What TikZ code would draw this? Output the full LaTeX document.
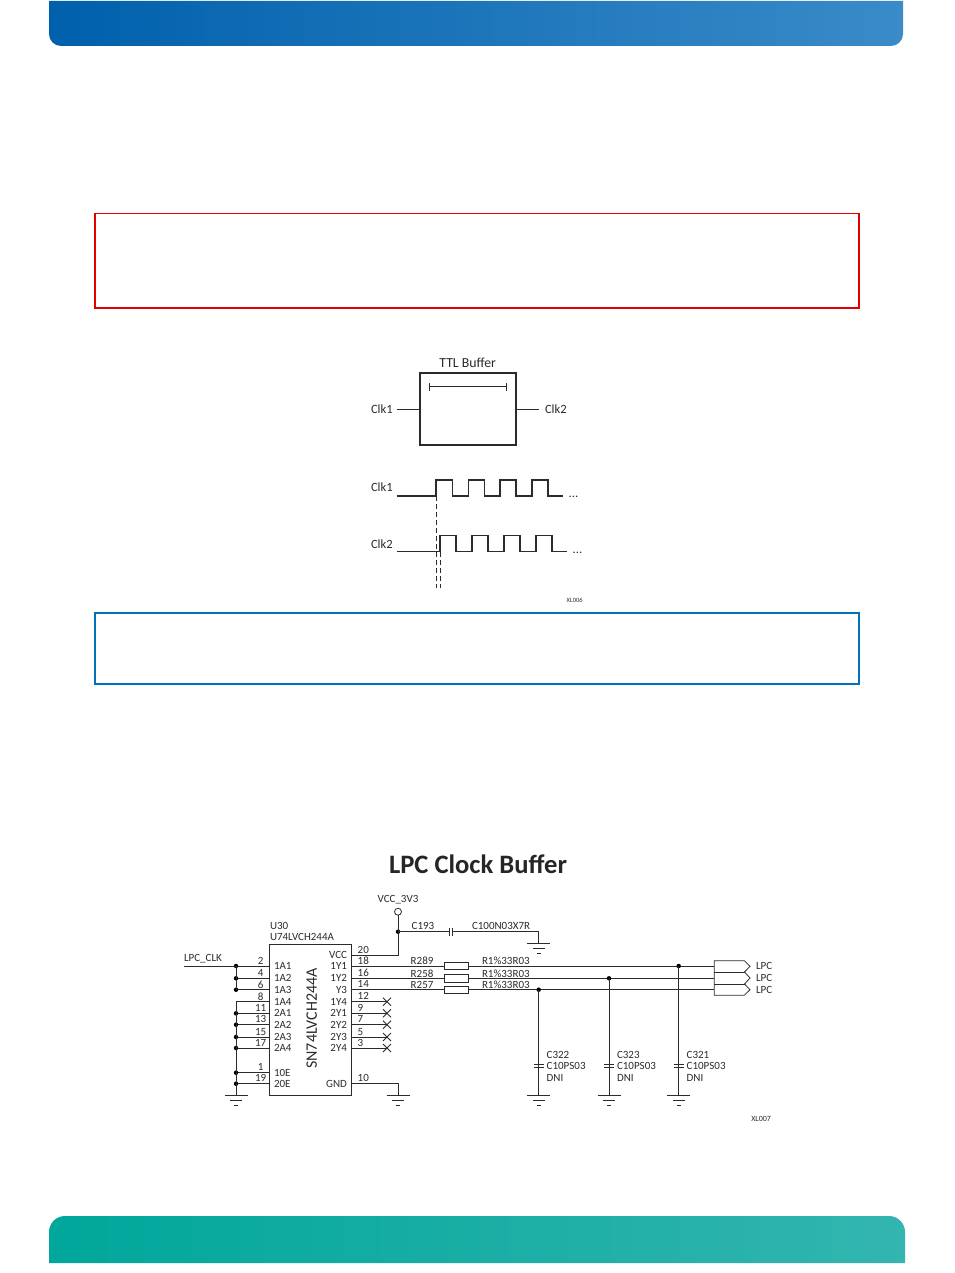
\documentclass[tikz,border=0pt]{standalone}
\usepackage{fontspec}
\setmainfont{Carlito}
\definecolor{bandA}{HTML}{0060AC}
\definecolor{bandB}{HTML}{0072B8}
\definecolor{bandC}{HTML}{3A8BC8}
\definecolor{tealA}{HTML}{00A79A}
\definecolor{tealB}{HTML}{33B5B0}
\definecolor{ink}{HTML}{2B2B2B}
\definecolor{noteblue}{HTML}{0072B8}
\tikzset{
  x=1pt,y=-1pt,
  every node/.style={inner sep=0pt,outer sep=0pt,text=ink},
  wire/.style={draw=ink,line width=0.9pt},
  thick wire/.style={draw=ink,line width=1.6pt},
  sch/.style={font=\fontsize{11}{12}\selectfont},
  fig/.style={font=\fontsize{12.6}{13}\selectfont},
  dotj/.style={fill=black,circle,minimum size=4.5pt},
  gndsym/.pic={
    \draw[wire] (-11.5,0)--(11.5,0);
    \draw[wire] (-6,5)--(6,5);
    \draw[wire] (-2,10)--(2,10);
  },
  capsym/.pic={
    \draw[wire] (-5,-1.8)--(5,-1.8);
    \draw[wire] (-5,1.8)--(5,1.8);
  },
  xmark/.pic={
    \draw[wire] (-4,-4)--(4,4);
    \draw[wire] (-4,4)--(4,-4);
  },
}
\begin{document}
\begin{tikzpicture}
\useasboundingbox (0,0) rectangle (954,1273);
% bands
\shade[left color=bandA,middle color=bandB,right color=bandC]
  (49,1) -- (903,1) -- (903,34) arc[start angle=0,end angle=90,radius=12] -- (61,46) arc[start angle=90,end angle=180,radius=12] -- cycle;
\shade[left color=tealA,right color=tealB]
  (49,1263) -- (905,1263) -- (905,1232) arc[start angle=0,end angle=-90,radius=16] -- (65,1216) arc[start angle=-90,end angle=-180,radius=16] -- cycle;
% note boxes
\node[draw=red!90!black,line width=1.3pt,minimum width=764pt,minimum height=94.5pt,anchor=north west] (warnbox) at (95,213.5) {};
\node[draw=noteblue,line width=1.1pt,minimum width=764pt,minimum height=71pt,anchor=north west] (notebox) at (95,613) {};

% TTL buffer figure
\node[draw=ink,line width=1.7pt,minimum width=95.7pt,minimum height=72.3pt,anchor=north west] (ttl) at (420,372.7) {};
\node[font=\fontsize{13.8}{14}\selectfont,anchor=center] (ttllabel) at (467.7,363) {TTL Buffer};
\coordinate (dl) at (429.3,386.7);
\coordinate (dr) at (506,386.7);
\draw[wire] (dl)--(dr);
\draw[wire] ([yshift=-4pt]dl)--([yshift=4pt]dl);
\draw[wire] ([yshift=-4pt]dr)--([yshift=4pt]dr);
\node[fig,anchor=west] (clka) at (371,409) {Clk1};
\node[fig,anchor=west] (clkb) at (545,409) {Clk2};
\draw[wire] (clka.east)++(4,0) -- (ttl.west |- clka);
\draw[wire] (ttl.east |- clkb) -- ([xshift=-6pt]clkb.west);
\node[fig,anchor=west] (clkc) at (371,487) {Clk1};
\node[fig,anchor=west] (clkd) at (371,544) {Clk2};
\coordinate (w1) at (396.7,495.7);
\coordinate (w2) at (396.7,551.7);
\draw[thick wire,line join=miter] (w1) -| (436,479.7) -| (452.3,495.7) -| (468.3,479.7) -| (484.3,495.7) -| (500,479.7) -| (516,495.7) -| (532,479.7) -| (548,495.7) -- (562.7,495.7);
\draw[thick wire,line width=1.2pt] (w2) -| (440,535.7) -| (456,551.7) -| (472,535.7) -| (488,551.7) -| (504,535.7) -| (520,551.7) -| (536,535.7) -| (552,551.7) -- (566.7,551.7);
\node[fig,anchor=center] (dotsa) at (573.5,497) {...};
\node[fig,anchor=center] (dotsb) at (577.5,553) {...};
\coordinate (da) at (436,496);
\coordinate (db) at (440,536);
\draw[wire,dashed,dash pattern=on 5pt off 3pt] (da) -- (436,588);
\draw[wire,dashed,dash pattern=on 5pt off 3pt] (db) -- (440,588);
\node[font=\fontsize{6.5}{7}\selectfont,anchor=center] (xlsix) at (574.7,600) {XL006};

% title
\node[font=\bfseries\fontsize{26.6}{27}\selectfont,text=black!85,anchor=center] (title) at (478,864) {LPC Clock Buffer};

% IC
\node[draw=ink,line width=0.9pt,minimum width=82pt,minimum height=151.3pt,anchor=north west] (ic) at (269.3,944) {};
\node[font=\fontsize{16}{17}\selectfont,rotate=90,anchor=center] (icname) at (311.7,1018.5) {SN74LVCH244A};
\node[sch,anchor=west] (uthirty) at (270,925.7) {U30};
\node[sch,anchor=west] (upart) at (270,937.3) {U74LVCH244A};

% left pins: y/name/number
\foreach \y/\nm/\num in {966/1A1/2,978.3/1A2/4,989.7/1A3/6,1001.7/1A4/8,1013.3/2A1/11,1024.7/2A2/13,1037/2A3/15,1048/2A4/17,1072.7/10E/1,1083.7/20E/19}{
  \coordinate (L\num) at (236,\y);
  \coordinate (Li\num) at (269.3,\y);
  \draw[wire] (L\num)--(Li\num);
  \node[sch,anchor=west] (ln\num) at (274,\y) {\nm};
  \node[sch,anchor=center] (lp\num) at (260.7,\y-5.3) {\num};
}
\foreach \p in {2,4,6,11,13,15,17,1,19}{
  \node[dotj] (ldot\p) at (L\p) {};
}
\coordinate (lclk) at (184,966);
\node[sch,anchor=west] (lpcclk) at (184,958.5) {LPC\_CLK};
\draw[wire] (lclk)--(L2);
\draw[wire] (L2)--(L6);
\coordinate (gl) at (236,1095.7);
\draw[wire] (L8)--(gl);
\pic at (gl) {gndsym};

% right pins
\foreach \y/\nm/\num in {955/VCC/20,966/1Y1/18,978.3/1Y2/16,989.7/Y3/14,1001.7/1Y4/12,1013.3/2Y1/9,1024.7/2Y2/7,1037/2Y3/5,1048/2Y4/3,1083.7/GND/10}{
  \coordinate (R\num) at (351.3,\y);
  \node[sch,anchor=east] (rn\num) at (347,\y) {\nm};
  \node[sch,anchor=west] (rp\num) at (357.7,\y-5.3) {\num};
}
\foreach \num in {12,9,7,5,3}{
  \coordinate (X\num) at ([xshift=35.7pt]R\num);
  \draw[wire] (R\num)--(X\num);
  \pic at (X\num) {xmark};
}
% VCC
\node[draw=ink,circle,line width=0.8pt,minimum size=7pt,fill=white] (vcc) at (398,911.7) {};
\node[sch,anchor=center] (vcclabel) at (398,900) {VCC\_3V3};
\node[dotj] (vccj) at (398,931.7) {};
\draw[wire] (R20) -| (vccj.center);
\draw[wire] (vccj.center) -- (vcc.south);
\coordinate (ca) at (449.5,931.7);
\coordinate (cb) at (452.7,931.7);
\coordinate (cg) at (538.5,943.3);
\draw[wire] (vccj.center)--(ca);
\draw[wire] (cb) -| (cg);
\draw[wire] ([yshift=-4pt]ca)--([yshift=4pt]ca);
\draw[wire] ([yshift=-4pt]cb)--([yshift=4pt]cb);
\pic at (cg) {gndsym};
\node[sch,anchor=west] (cname) at (411.7,925.7) {C193};
\node[sch,anchor=west] (cval) at (472,925.7) {C100N03X7R};
% GND
\coordinate (gr) at (398,1095.7);
\draw[wire] (R10) -| (gr);
\pic at (gr) {gndsym};
% resistors and outputs
\foreach \y/\rn/\num/\i in {966/R289/18/a,978.3/R258/16/b,989.7/R257/14/c}{
  \node[draw=ink,line width=0.9pt,fill=white,minimum width=24pt,minimum height=7.4pt] (res\i) at (456.7,\y) {};
  \coordinate (out\i) at (714.3,\y);
  \draw[wire] (R\num)--(res\i.west);
  \draw[wire] (res\i.east)--(out\i);
  \node[sch,anchor=west] (rname\i) at (410.7,\y-5) {\rn};
  \node[sch,anchor=west] (rval\i) at (482,\y-5) {R1\%33R03};
  \node[sch,anchor=west] (lpc\i) at (756,\y) {LPC};
}
% connector flags
\draw[draw=ink,line width=0.8pt,line join=miter] (714.3,960.7) -- (744.3,960.7) -- (750,966.3) -- (744.5,972) -- (750,978) -- (744.5,984) -- (750,989.7) -- (744.3,995.3) -- (714.3,995.3) -- cycle;
\draw[wire] (714.3,972)--(744.5,972);
\draw[wire] (714.3,984)--(744.5,984);
% shunt caps
\foreach \x/\y/\cn/\i in {538.7/989.7/C322/a,609/978.3/C323/b,678.7/966/C321/c}{
  \node[dotj] (tap\i) at (\x,\y) {};
  \coordinate (cap\i) at (\x,1066);
  \coordinate (cgnd\i) at (\x,1095.7);
  \draw[wire] (tap\i.center)--([yshift=-1.8pt]cap\i);
  \draw[wire] ([yshift=1.8pt]cap\i)--(cgnd\i);
  \pic at (cap\i) {capsym};
  \pic at (cgnd\i) {gndsym};
  \node[sch,anchor=west] (cn\i) at (\x+8,1055.3) {\cn};
  \node[sch,anchor=west] (cv\i) at (\x+8,1066.3) {C10PS03};
  \node[sch,anchor=west] (cd\i) at (\x+8,1078) {DNI};
}
\node[font=\fontsize{8}{8}\selectfont,anchor=east] (xlseven) at (771,1119) {XL007};
\end{tikzpicture}
\end{document}
